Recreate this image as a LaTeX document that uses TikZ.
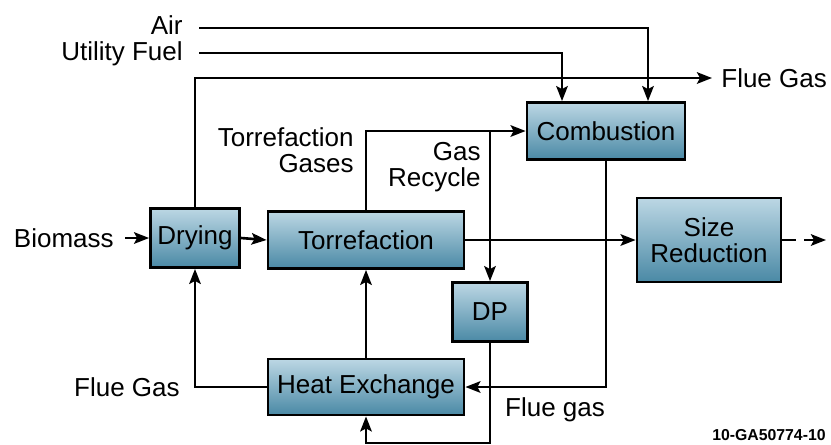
\documentclass[tikz,border=0pt]{standalone}
\usepackage{fontspec}
\setmainfont{Liberation Sans}
\usetikzlibrary{arrows.meta,calc}
\definecolor{boxtop}{HTML}{BCD7E4}
\definecolor{boxbot}{HTML}{4A89A5}
\begin{document}
\begin{tikzpicture}
	[	x=0.02cm,y=-0.02cm,
	box/.style={rectangle,draw=black,line width=1.6pt,top color=boxtop,bottom color=boxbot,inner sep=0pt,align=center,font=\fontsize{14.8}{15}\selectfont},
	plain/.style={draw=none,fill=none,inner sep=0pt,font=\fontsize{14.8}{15}\selectfont},
	tag/.style={draw=none,fill=none,inner sep=0pt,font=\fontsize{9}{10}\selectfont\bfseries},
	flow/.style={line width=1.5pt,-{Stealth[length=3mm,width=2.3mm,inset=0.6mm]}}
	]
	\useasboundingbox (0,0) rectangle (831,444);
	% process boxes
	\node[box,minimum width=1.78cm,minimum height=1.18cm] (dry) at (195,238){Drying};
	\node[box,minimum width=3.92cm,minimum height=1.14cm] (torr) at (366,240){Torrefaction};
	\node[box,minimum width=3.16cm,minimum height=1.14cm] (comb) at (606,131){Combustion};
	\node[box,minimum width=2.88cm,minimum height=1.68cm] (size) at (709,240){Size\\Reduction};
	\node[box,minimum width=1.5cm,minimum height=1.18cm] (dp) at (490,312){DP};
	\node[box,minimum width=3.92cm,minimum height=1.12cm] (hx) at (366,387){Heat Exchange};
	% labels
	\node[plain,anchor=east] (air) at (183,25){Air};
	\node[plain,anchor=east] (fuel) at (183,54){Utility Fuel};
	\node[plain,anchor=west] (flueout) at (721,78){Flue Gas};
	\node[plain,anchor=east] (bio) at (114,238){Biomass};
	\node[plain,anchor=east] (fluein) at (180,387){Flue Gas};
	\node[plain,anchor=east,align=right] (tgas) at (354,150){Torrefaction\\Gases};
	\node[plain,anchor=east,align=right] (grec) at (481,167){Gas\\Recycle};
	\node[plain] (fgas) at (555,410){Flue gas};
	\node[tag,anchor=east] (code) at (826,435){10-GA50774-10};
	\coordinate (airS) at (199,28);
	\coordinate (fuelS) at (199,53);
	\coordinate (airIn) at ($(comb.north)+(42,0)$);
	\coordinate (fuelIn) at ($(comb.north)+(-44,0)$);
	\coordinate (split) at (dp.north |- comb.west);
	\coordinate (out) at (826,240);
	% connectors
	\draw[flow] (airS) -| (airIn);
	\draw[flow] (fuelS) -| (fuelIn);
	\draw[flow] (dry.north) |- ($(flueout.west)+(-9,0)$);
	\draw[flow] (torr.north) |- (comb.west);
	\draw[flow] (split) -- (dp.north);
	\draw[flow,shorten <=6.5pt] (bio.east) -- (dry.west);
	\draw[flow] (dry.east) -- (torr.west);
	\draw[flow] (torr.east) -- (size.west);
	\draw[flow,dash pattern=on 8pt off 4.5pt] (size.east) -- (out);
	\draw[flow] (hx.west) -| (dry.south);
	\draw[flow] (hx.north) -- (torr.south);
	\draw[flow] (comb.south) |- (hx.east);
	\draw[flow] (dp.south) -- ++(0,100) -| (hx.south);
\end{tikzpicture}
\end{document}
